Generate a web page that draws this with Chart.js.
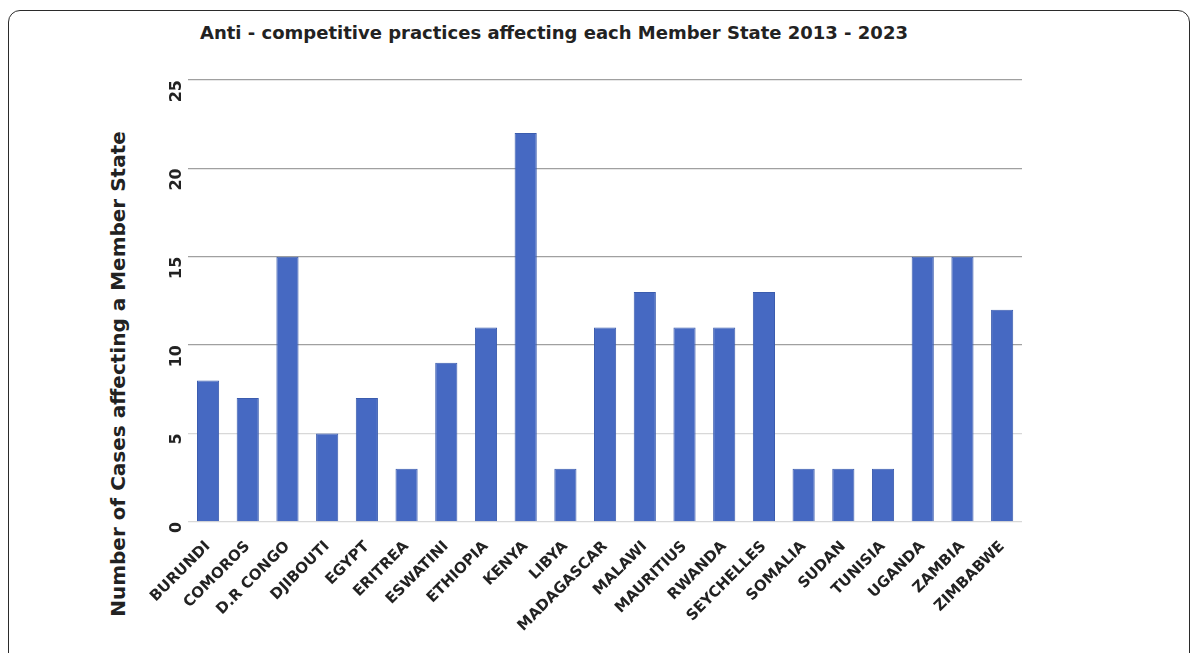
<!DOCTYPE html>
<html>
<head>
<meta charset="utf-8">
<script src="https://cdn.jsdelivr.net/npm/chart.js@4"></script>
<style>
  html, body { margin: 0; padding: 0; background: #fff; overflow: hidden; }
  .frame {
    position: absolute; left: 8px; top: 10px; width: 1182px; height: 660px;
    border: 1.5px solid #2b2b2b; border-radius: 12px; box-sizing: border-box;
  }
  .title {
    position: absolute; left: 200px; top: 22px;
    font: bold 18px "DejaVu Sans", sans-serif; color: #222;
  }
  .ytitle {
    position: absolute; left: 118px; top: 374px; white-space: nowrap;
    transform: translate(-50%, -50%) rotate(-90deg);
    font: bold 20px "DejaVu Sans", sans-serif; color: #222;
  }
  .wrap { position: absolute; left: 0; top: 0; width: 1200px; height: 653px; }
</style>
</head>
<body>
<div class="frame"></div>
<div class="title">Anti - competitive practices affecting each Member State 2013 - 2023</div>
<div class="ytitle">Number of Cases affecting a Member State</div>
<div class="wrap"><canvas id="casesChart" width="1200" height="653"></canvas></div>
<script>
const memberStates = ['BURUNDI', 'COMOROS', 'D.R CONGO', 'DJIBOUTI', 'EGYPT', 'ERITREA', 'ESWATINI',
    'ETHIOPIA', 'KENYA', 'LIBYA', 'MADAGASCAR', 'MALAWI', 'MAURITIUS', 'RWANDA', 'SEYCHELLES',
    'SOMALIA', 'SUDAN', 'TUNISIA', 'UGANDA', 'ZAMBIA', 'ZIMBABWE'];
const caseCounts = [8, 7, 15, 5, 7, 3, 9, 11, 22, 3, 11, 13, 11, 11, 13, 3, 3, 3, 15, 15, 12];
const yTicks = [0, 5, 10, 15, 20, 25];

const FONT = 'DejaVu Sans';

const ctx = document.getElementById('casesChart');
const casesChart = new Chart(ctx, {
    type: 'bar',
    data: {
        labels: memberStates,
        datasets: [{
            label: 'Cases',
            data: caseCounts,
            backgroundColor: '#4669c2',
            borderColor: '#3b5cae',
            borderWidth: 1,
            barPercentage: 0.62,
            categoryPercentage: 0.9
        }]
    },
    options: {
        responsive: false,
        animation: false,
        layout: { padding: { left: 147, right: 178, top: 80, bottom: 10 } },
        plugins: { legend: { display: false }, tooltip: { enabled: false } },
        scales: {
            x: {
                grid: { display: false },
                border: { display: false },
                ticks: {
                    color: '#222',
                    padding: 8,
                    font: { family: FONT, weight: 'bold', size: 15 },
                    minRotation: 45, maxRotation: 45,
                    autoSkip: false
                }
            },
            y: {
                min: 0, max: 25,
                afterBuildTicks: (scale) => { scale.ticks = yTicks.map(v => ({ value: v })); },
                grid: {
                    color: (c) => (c.tick.value === 0 || c.tick.value === 5) ? '#d8d8d8' : '#a0a0a0',
                    lineWidth: 1.2,
                    drawTicks: false
                },
                border: { display: false },
                ticks: {
                    color: '#222',
                    padding: 11,
                    minRotation: 90, maxRotation: 90,
                    font: { family: FONT, weight: 'bold', size: 16 }
                }
            }
        }
    }
});
</script>
</body>
</html>
